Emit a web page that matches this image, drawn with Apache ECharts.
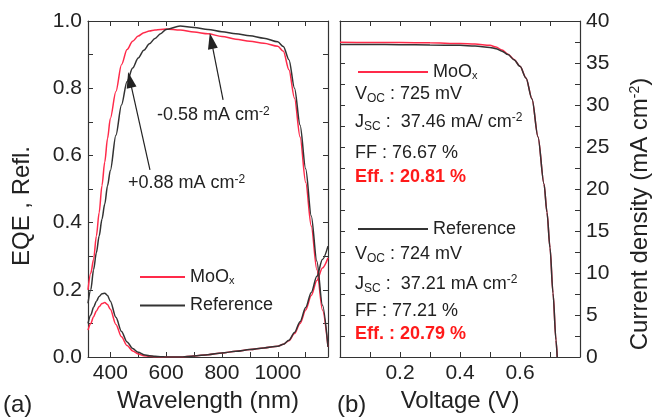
<!DOCTYPE html>
<html>
<head>
<meta charset="utf-8">
<script src="https://cdn.jsdelivr.net/npm/echarts@6/dist/echarts.min.js"></script>
<style>
html, body { margin: 0; padding: 0; background: #fff; }
#main { width: 654px; height: 418px; }
</style>
</head>
<body>
<div id="main"></div>
<script>
// (a) EQE / reflectance vs wavelength
var wavelength = [320, 330, 340, 350, 360, 370, 380, 390, 400, 420, 440, 460, 480, 500, 520, 540, 560, 580, 600,
    650, 700, 750, 800, 850, 900, 950, 1000, 1020, 1040, 1060, 1080, 1100, 1120, 1140, 1160, 1180];
var eqeMoOx = [0.20, 0.25, 0.29, 0.36, 0.43, 0.51, 0.58, 0.65, 0.71, 0.79, 0.87, 0.915, 0.94, 0.955, 0.965, 0.97, 0.973, 0.975, 0.976,
    0.973, 0.967, 0.962, 0.954, 0.946, 0.94, 0.934, 0.925, 0.91, 0.855, 0.77, 0.655, 0.52, 0.39, 0.26, 0.14, 0.03];
var eqeRef = [0.16, 0.20, 0.26, 0.31, 0.36, 0.41, 0.455, 0.51, 0.555, 0.66, 0.75, 0.82, 0.86, 0.89, 0.913, 0.932, 0.948, 0.962, 0.975,
    0.985, 0.981, 0.975, 0.968, 0.962, 0.956, 0.949, 0.938, 0.924, 0.885, 0.80, 0.69, 0.56, 0.42, 0.285, 0.155, 0.03];
var reflMoOx = [0.08, 0.10, 0.12, 0.137, 0.15, 0.159, 0.162, 0.156, 0.142, 0.097, 0.06, 0.034, 0.018, 0.009, 0.004, 0.002, 0.001, 0.0, 0.0,
    0.0, 0.003, 0.007, 0.012, 0.017, 0.022, 0.027, 0.032, 0.038, 0.048, 0.07, 0.10, 0.14, 0.183, 0.228, 0.265, 0.295];
var reflRef = [0.10, 0.125, 0.148, 0.166, 0.18, 0.188, 0.19, 0.183, 0.166, 0.118, 0.076, 0.045, 0.025, 0.014, 0.007, 0.004, 0.002, 0.001, 0.0,
    0.0, 0.003, 0.007, 0.012, 0.017, 0.022, 0.027, 0.032, 0.038, 0.05, 0.073, 0.105, 0.147, 0.192, 0.24, 0.29, 0.33];

// (b) J-V curves
var voltage = [0, 0.1, 0.2, 0.3, 0.4, 0.45, 0.5, 0.52, 0.54, 0.56, 0.58, 0.6, 0.62, 0.64, 0.66, 0.68, 0.69, 0.7, 0.71, 0.72, 0.724];
var jMoOx = [37.46, 37.45, 37.43, 37.4, 37.33, 37.25, 37.1, 36.9, 36.55, 36.05, 35.42, 34.62, 33.22, 30.72, 26.22, 20.62, 17.22, 13.02, 7.62, 2.02, 0];
var jRef = [37.21, 37.2, 37.18, 37.15, 37.1, 37.02, 36.85, 36.7, 36.4, 36.0, 35.4, 34.6, 33.2, 30.7, 26.2, 20.6, 17.2, 13.0, 7.6, 2.0, 0];

// ticks and labels
var wlTicks = [400, 500, 600, 700, 800, 900, 1000, 1100];
var wlLabels = [400, 600, 800, 1000];
var eqeTicks = [0.1, 0.2, 0.3, 0.4, 0.5, 0.6, 0.7, 0.8, 0.9];
var eqeLabels = [0, 0.2, 0.4, 0.6, 0.8, 1.0];
var vTicks = [0.1, 0.2, 0.3, 0.4, 0.5, 0.6, 0.7];
var vLabels = [0.2, 0.4, 0.6];
var jTicks = [2.5, 5, 7.5, 10, 12.5, 15, 17.5, 20, 22.5, 25, 27.5, 30, 32.5, 35, 37.5];
var jLabels = [0, 5, 10, 15, 20, 25, 30, 35, 40];

// texts
var statsMoOx = ['V{sub|OC} : 725 mV', 'J{sub|SC} :  37.46 mA/ cm{sup|-2}', 'FF : 76.67 %', 'Eff. : 20.81 %'];
var statsRef = ['V{sub|OC} : 724 mV', 'J{sub|SC} :  37.21 mA cm{sup|-2}', 'FF : 77.21 %', 'Eff. : 20.79 %'];
var gainText = '+0.88 mA cm{sup|-2}';
var lossText = '-0.58 mA cm{sup|-2}';

var FONT = 'Liberation Sans, Arial, sans-serif';
var INK = '#222';
var RED = '#ff2a4a';
var BLACK = '#333';

function pairs(xs, ys) {
    var out = [];
    for (var i = 0; i < xs.length; i++) {
        out.push([xs[i], ys[i]]);
    }
    return out;
}

var richSub = {
    sub: {fontSize: 12, fontFamily: FONT, fill: INK, color: INK, verticalAlign: 'bottom', padding: [9, 0, 0, 0]},
    sup: {fontSize: 12, fontFamily: FONT, fill: INK, color: INK, verticalAlign: 'top'}
};

// axis helper: frame side with inward ticks
function sideAxis(grid, pos, min, max, ticks, labels, extra) {
    var ax = {
        type: 'value', gridIndex: grid, position: pos, min: min, max: max,
        axisLine: {show: true, onZero: false, lineStyle: {color: BLACK, width: 1.2}},
        axisTick: {show: true, inside: true, length: 5, customValues: ticks, lineStyle: {color: BLACK, width: 1}},
        axisLabel: {show: !!labels, customValues: labels || [], fontSize: 21, fontFamily: FONT, color: INK, margin: 6},
        splitLine: {show: false}
    };
    if (extra) {
        for (var k in extra) {
            if (k === 'formatter') ax.axisLabel.formatter = extra[k];
            else ax[k] = extra[k];
        }
    }
    return ax;
}

var myChart = echarts.init(document.getElementById('main'));

var option = {
    animation: false,
    backgroundColor: '#fff',
    textStyle: {fontFamily: FONT},
    grid: [
        {left: 88, top: 21, width: 240, height: 336},
        {left: 340, top: 21, width: 240, height: 336}
    ],
    xAxis: [
        sideAxis(0, 'bottom', 320, 1180, wlTicks, wlLabels, {
            formatter: function (v) { return String(v); },
            name: 'Wavelength (nm)', nameLocation: 'middle', nameGap: 31,
            nameTextStyle: {fontSize: 24, fontFamily: FONT, color: INK}
        }),
        sideAxis(0, 'top', 320, 1180, wlTicks, null),
        sideAxis(1, 'bottom', 0, 0.8, vTicks, vLabels, {
            formatter: function (v) { return v.toFixed(1); },
            name: 'Voltage (V)', nameLocation: 'middle', nameGap: 31,
            nameTextStyle: {fontSize: 24, fontFamily: FONT, color: INK}
        }),
        sideAxis(1, 'top', 0, 0.8, vTicks, null)
    ],
    yAxis: [
        sideAxis(0, 'left', 0, 1, eqeTicks, eqeLabels, {
            formatter: function (v) { return v.toFixed(1); },
            name: 'EQE , Refl.', nameLocation: 'middle', nameGap: 54,
            nameTextStyle: {fontSize: 24, fontFamily: FONT, color: INK, padding: [0, 34, 0, 0]}
        }),
        sideAxis(0, 'right', 0, 1, eqeTicks, null),
        sideAxis(1, 'left', 0, 40, jTicks, null),
        sideAxis(1, 'right', 0, 40, jTicks, jLabels, {
            formatter: function (v) { return String(v); },
            name: 'Current density (mA cm{sup|-2})', nameLocation: 'middle', nameGap: 48,
            nameTextStyle: {
                fontSize: 24, fontFamily: FONT, color: INK, padding: [0, 50, 0, 0],
                rich: {sup: {fontSize: 14, fontFamily: FONT, color: INK, verticalAlign: 'top'}}
            }
        })
    ],
    legend: [
        {
            data: ['MoOx', 'Reference'], left: 135, top: 263, orient: 'vertical',
            icon: 'rect', itemWidth: 45, itemHeight: 2, itemGap: 10,
            textStyle: {fontSize: 18, fontFamily: FONT, color: INK, rich: {sub: {fontSize: 11, color: INK, verticalAlign: 'bottom', padding: [8, 0, 0, 0]}}},
            formatter: function (name) { return name === 'MoOx' ? 'MoO{sub|x}' : name; }
        },
        {
            data: ['MoOx'], left: 353, top: 58, icon: 'rect', itemWidth: 70, itemHeight: 2,
            textStyle: {fontSize: 18, fontFamily: FONT, color: INK, rich: {sub: {fontSize: 11, color: INK, verticalAlign: 'bottom', padding: [8, 0, 0, 0]}}},
            formatter: function () { return 'MoO{sub|x}'; }
        },
        {
            data: ['Reference'], left: 353, top: 215, icon: 'rect', itemWidth: 70, itemHeight: 2,
            textStyle: {fontSize: 18, fontFamily: FONT, color: INK}
        }
    ],
    series: [
        {
            name: 'MoOx', type: 'line', xAxisIndex: 0, yAxisIndex: 0, data: pairs(wavelength, eqeMoOx),
            symbol: 'none', smooth: 0.3, smoothMonotone: 'x', color: RED, lineStyle: {width: 1.5}
        },
        {
            name: 'MoOx', type: 'line', xAxisIndex: 0, yAxisIndex: 0, data: pairs(wavelength, reflMoOx),
            symbol: 'none', smooth: 0.3, smoothMonotone: 'x', color: RED, lineStyle: {width: 1.5}
        },
        {
            name: 'Reference', type: 'line', xAxisIndex: 0, yAxisIndex: 0, data: pairs(wavelength, eqeRef),
            symbol: 'none', smooth: 0.3, smoothMonotone: 'x', color: BLACK, lineStyle: {width: 1.5},
            markLine: {
                silent: true, animation: false,
                symbol: ['none', 'triangle'], symbolSize: [10, 16],
                label: {show: false},
                lineStyle: {color: INK, width: 1.2, type: 'solid'},
                data: [
                    [{coord: [542, 0.557]}, {coord: [470, 0.825]}],
                    [{coord: [804, 0.765]}, {coord: [762, 0.941]}]
                ]
            }
        },
        {
            name: 'Reference', type: 'line', xAxisIndex: 0, yAxisIndex: 0, data: pairs(wavelength, reflRef),
            symbol: 'none', smooth: 0.3, smoothMonotone: 'x', color: BLACK, lineStyle: {width: 1.5}
        },
        {
            name: 'MoOx', type: 'line', xAxisIndex: 2, yAxisIndex: 3, data: pairs(voltage, jMoOx),
            symbol: 'none', smooth: 0.3, smoothMonotone: 'x', color: RED, lineStyle: {width: 1.5}
        },
        {
            name: 'Reference', type: 'line', xAxisIndex: 2, yAxisIndex: 3, data: pairs(voltage, jRef),
            symbol: 'none', smooth: 0.3, smoothMonotone: 'x', color: BLACK, lineStyle: {width: 1.5}
        }
    ],
    graphic: []
};

function txt(x, y, text, opts) {
    var st = {
        text: text, fontSize: 18, fontFamily: FONT, fill: INK,
        verticalAlign: 'middle', rich: richSub
    };
    if (opts) {
        for (var k in opts) st[k] = opts[k];
    }
    return {type: 'text', x: x, y: y, silent: true, style: st};
}

var g = option.graphic;
g.push(txt(157, 115, lossText));
g.push(txt(128, 183, gainText));
var ys1 = [94, 122, 153, 177];
var ys2 = [254, 284, 311, 334];
for (var i = 0; i < 4; i++) {
    var eff = (i === 3) ? {fill: '#ff1a1a', fontWeight: 'bold'} : null;
    g.push(txt(355, ys1[i], statsMoOx[i], eff));
    g.push(txt(355, ys2[i], statsRef[i], eff));
}
g.push(txt(3, 405, '(a)', {fontSize: 24}));
g.push(txt(337, 405, '(b)', {fontSize: 24}));

myChart.setOption(option);
</script>
</body>
</html>
